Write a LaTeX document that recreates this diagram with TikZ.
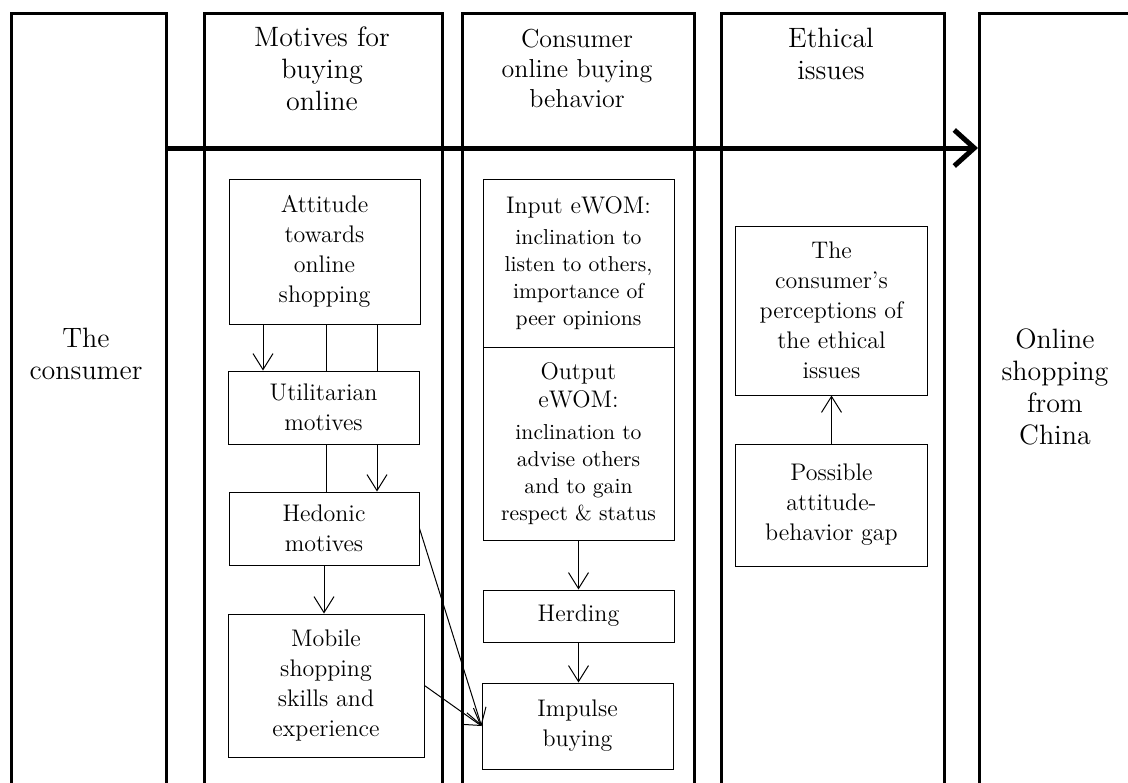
\documentclass[tikz,border=0pt]{standalone}
\usetikzlibrary{arrows.meta}
\newcommand\smtxt{\fontsize{10.8}{13.5}\selectfont}
\newcommand\lgtxt{\fontsize{12}{15}\selectfont}
\begin{document}
\begin{tikzpicture}[x=0.5pt,y=-0.5pt,
  col/.style={draw,line width=1.3pt,anchor=north west,inner sep=0pt,minimum height=420pt},
  bigt/.style={font=\fontsize{14}{16}\selectfont,align=center,inner sep=0pt},
  midt/.style={font=\fontsize{13}{15}\selectfont,align=center,inner sep=0pt},
  box/.style={draw,line width=0.5pt,align=center,inner sep=0pt,font=\lgtxt},
  smallbox/.style={box,font=\smtxt},
  arr/.style={line width=0.5pt,-{Straight Barb[length=8pt,width=10pt]}},
  ln/.style={line width=0.5pt},
  bigarr/.style={line width=2.5pt,-{Straight Barb[length=10pt,width=18pt]}}
]
\useasboundingbox (0,0) rectangle (1128,782);
\clip (0,0) rectangle (1128,782);
% columns
\node[col,minimum width=77.5pt] (c1) at (10,12) {};
\node[col,minimum width=119pt] (c2) at (203,12) {};
\node[col,minimum width=116pt] (c3) at (461,12) {};
\node[col,minimum width=111.5pt] (c4) at (720,12) {};
\node[col,minimum width=81pt] (c5) at (978,12) {};
% column texts
\node[bigt] (t1) at (86,354) {The\\consumer};
\node[bigt] (t2) at (322,69) {Motives for\\buying\\online};
\node[midt] (t3) at (577,68) {Consumer\\online buying\\behavior};
\node[bigt] (t4) at (831,54) {Ethical\\issues};
\node[bigt] (t5) at (1055,387) {Online\\shopping\\from\\China};
% main arrow
\coordinate (ya) at (0,148);
\draw[bigarr] (c1.east |- ya) -- (c5.west |- ya);
% boxes
\node[box,minimum width=95.5pt,minimum height=72.5pt] (att) at (324.5,251.5) {Attitude\\towards\\online\\shopping};
\node[box,minimum width=95.5pt,minimum height=36.5pt] (uti) at (323.5,407.5) {Utilitarian\\motives};
\node[box,minimum width=95pt,minimum height=36.5pt] (hed) at (324,528.5) {Hedonic\\motives};
\node[box,minimum width=98pt,minimum height=71.5pt] (mob) at (326,685.5) {Mobile\\shopping\\skills and\\experience};
\node[smallbox,minimum width=95.5pt,minimum height=84pt] (inp) at (578.5,263) {{\lgtxt Input eWOM:}\\[2pt]inclination to\\listen to others,\\importance of\\peer opinions};
\node[smallbox,minimum width=95.5pt,minimum height=96.5pt] (out) at (578.5,443.5) {{\lgtxt Output}\\[0.5pt]{\lgtxt eWOM:}\\[2.5pt]inclination to\\advise others\\and to gain\\respect \& status};
\node[box,minimum width=95.5pt,minimum height=26pt] (her) at (578.5,616) {Herding};
\node[box,minimum width=95.5pt,minimum height=43pt] (imp) at (577.5,726) {Impulse\\buying};
\node[box,minimum width=96pt,minimum height=84.5pt] (per) at (831.5,310.5) {The\\consumer's\\perceptions of\\the ethical\\issues};
\node[box,minimum width=96pt,minimum height=61pt] (gap) at (831.5,505) {Possible\\attitude-\\behavior gap};
% connectors
\coordinate (xa) at (263,0);
\coordinate (xb) at (326,0);
\coordinate (xc) at (377,0);
\draw[arr] (att.south -| xa) -- (uti.north -| xa);
\draw[ln] (att.south -| xb) -- (uti.north -| xb);
\draw[ln] (att.south -| xc) -- (uti.north -| xc);
\draw[ln] (uti.south -| xb) -- (hed.north -| xb);
\draw[arr] (uti.south -| xc) -- (hed.north -| xc);
\draw[arr] (hed.south) -- (mob.north -| hed.south);
\draw[arr] (hed.east) -- (imp.west);
\draw[arr] (mob.east) -- (imp.west);
\draw[arr] (out.south) -- (her.north);
\draw[arr] (her.south) -- (imp.north -| her.south);
\draw[arr] (gap.north) -- (per.south);
\end{tikzpicture}
\end{document}
